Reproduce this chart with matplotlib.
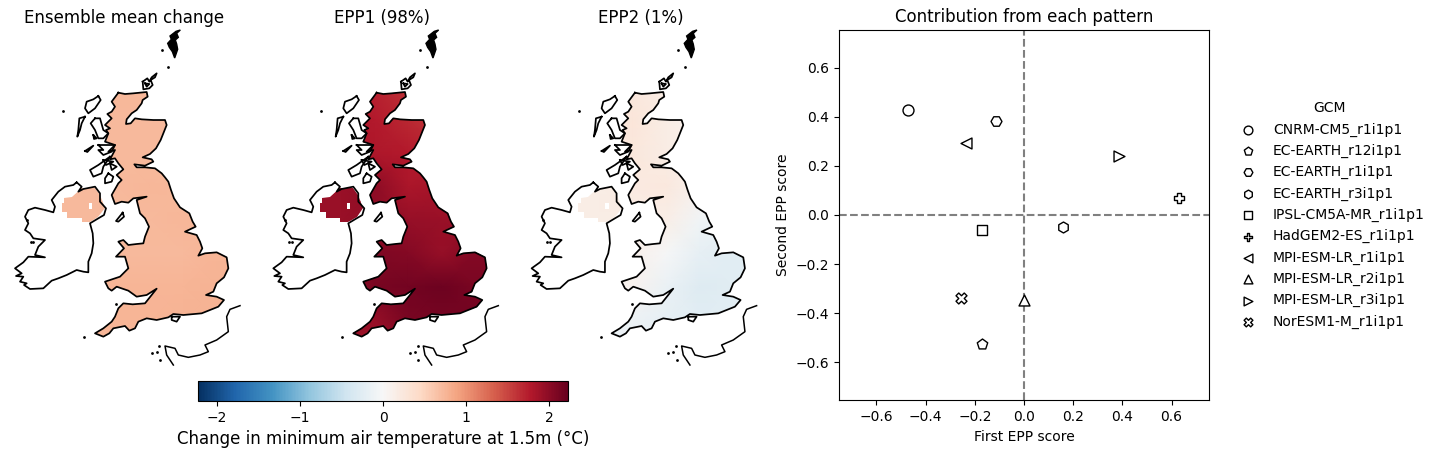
import numpy as np
import matplotlib
matplotlib.use('Agg')
import matplotlib.pyplot as plt
from matplotlib.path import Path
from matplotlib.patches import PathPatch
from matplotlib.cm import ScalarMappable
from matplotlib.colors import Normalize

# coastlines, in map units
great_britain = [(355,218),(375,222),(400,220),(440,216),(443,230),(428,240),(425,250),(410,270),(395,280),(380,298),
    (378,312),(392,310),(405,295),(425,298),(460,300),(495,300),(500,315),(490,340),(482,360),(468,385),(450,402),
    (428,412),(455,418),(460,425),(435,437),(403,433),(410,442),(435,442),(465,445),(485,460),(495,472),(505,485),
    (513,510),(522,535),(540,562),(568,580),(578,605),(587,620),(555,635),(590,645),(600,665),(607,685),(595,707),
    (615,700),(650,697),(680,712),(685,745),(672,772),(650,790),(640,815),(618,825),(650,830),(672,840),(655,860),
    (605,880),(550,885),(520,882),(505,892),(470,900),(440,895),(415,905),(405,925),(388,932),(375,918),(365,920),
    (340,925),(328,940),(310,950),(285,940),(310,925),(335,905),(345,890),(355,865),(370,850),(398,853),(435,850),
    (470,806),(440,825),(410,830),(385,812),(350,800),(335,812),(325,805),(315,785),(345,775),(360,770),(385,745),
    (375,710),(348,710),(372,685),(355,665),(370,660),(385,675),(410,672),(430,670),(435,650),(447,620),(435,595),
    (420,580),(410,540),(440,530),(400,535),(385,548),(365,545),(345,552),(335,525),(355,490),(365,480),(350,465),
    (370,448),(355,430),(345,415),(330,418),(345,390),(325,395),(345,375),(315,365),(325,340),(318,330),(330,325),
    (315,315),(335,295),(322,282),(335,275),(345,260),(335,245)]
ireland = [(230,487),(245,500),(235,515),(250,507),(285,500),(300,520),(300,545),(318,565),(312,585),(295,595),
    (270,610),(278,640),(280,670),(275,700),(265,725),(265,757),(250,755),(230,750),(200,765),(175,775),(155,782),
    (130,805),(90,807),(72,795),(80,790),(60,785),(70,770),(48,768),(65,760),(45,745),(70,727),(85,710),(135,712),
    (105,705),(115,680),(135,660),(100,655),(90,640),(75,630),(85,610),(75,590),(85,570),(105,563),(135,570),(160,577),
    (165,560),(155,540),(175,515),(195,500),(220,495)]
shetland = [(541,30),(530,40),(535,52),(526,60),(530,72),(533,88),(524,114),(517,95),(508,82),(503,70),(514,58),(510,48),(528,34)]
orkney = [(428,185),(442,175),(448,185),(455,172),(470,160),(465,172),(452,180),(458,195),(448,205),(430,208)]
orkney_south = [(435,190),(448,192),(440,200)]
lewis = [(295,228),(302,240),(285,265),(265,280),(255,265),(260,245),(280,238)]
uist = [(255,290),(245,310),(240,330),(232,350),(235,330),(238,295)]
skye = [(285,295),(300,295),(310,330),(325,340),(310,355),(295,355),(285,330),(272,310)]
small_isle = [(280,345),(290,355),(282,357)]
tiree = [(255,393),(280,377),(262,396)]
mull = [(295,375),(345,375),(335,395),(310,405),(295,390),(310,390)]
jura = [(330,410),(310,440),(305,460),(280,470),(270,450),(295,435)]
kintyre = [(325,460),(340,470),(335,485),(315,490),(315,475)]
inner_sound = [(310,420),(340,425),(318,435)]
sleat = [(330,430),(350,440),(335,450)]
isle_of_man = [(368,578),(372,590),(355,605),(348,603)]
wight = [(515,890),(540,890),(530,905),(515,900)]
france = [(720,857),(690,868),(680,890),(685,935),(650,960),(615,975),(625,995),(600,1005),(565,1012),(535,1005),
    (525,985),(495,978),(500,1005),(520,1035)]
specks_x = [188,252,505,485,347,455,470,480,478,100,80,92]
specks_y = [273,952,142,90,852,1000,997,1020,978,665,600,665]
islands = [orkney, orkney_south, lewis, uist, skye, small_isle, tiree, mull, jura, kintyre, inner_sound, sleat,
           isle_of_man, wight]

ni_region = [(192,533),(215,530),(245,505),(285,503),(300,525),(315,565),(295,590),(270,605),(245,605),(245,593),
    (202,593),(202,575),(185,575),(185,548),(192,548)]
ni_hole = [(266,567),(276,567),(276,550),(266,550)]

grid_x = [150,250,350,450,550,650,750]
grid_y = [200,300,400,500,600,700,800,900,1000]
mean_change = [[.74,.74,.74,.74,.74,.74,.74],
               [.72,.72,.73,.73,.73,.73,.73],
               [.72,.72,.73,.73,.73,.73,.73],
               [.73,.73,.73,.74,.73,.73,.73],
               [.73,.73,.73,.73,.74,.74,.74],
               [.73,.73,.73,.73,.72,.76,.76],
               [.73,.73,.75,.75,.75,.78,.78],
               [.73,.73,.75,.76,.77,.78,.78],
               [.73,.73,.75,.76,.77,.78,.78]]
epp1 = [[1.72,1.72,1.72,1.62,1.62,1.62,1.62],
        [1.80,1.80,1.76,1.68,1.60,1.60,1.60],
        [1.90,1.85,1.80,1.76,1.70,1.70,1.70],
        [1.92,1.92,2.00,1.82,1.85,1.85,1.85],
        [1.92,1.92,1.98,1.95,1.92,1.92,1.92],
        [1.92,1.92,2.08,2.05,1.95,2.05,2.05],
        [1.92,1.92,2.12,2.15,2.18,2.12,2.12],
        [1.92,1.92,1.95,2.12,2.14,2.15,2.15],
        [1.92,1.92,1.85,2.00,2.10,2.15,2.15]]
epp2 = [[.20,.20,.24,.17,.17,.17,.17],
        [.22,.22,.27,.17,.10,.10,.10],
        [.22,.22,.26,.17,.08,.08,.08],
        [.17,.17,.20,.24,.10,.00,.00],
        [.17,.17,.17,.14,-.07,-.14,-.14],
        [.10,.10,.12,-.03,-.20,-.26,-.26],
        [.08,.08,.08,-.14,-.29,-.26,-.26],
        [-.08,-.08,-.12,-.20,-.26,-.24,-.24],
        [-.14,-.14,-.17,-.24,-.26,-.24,-.24]]
map_titles = ['Ensemble mean change', 'EPP1 (98%)', 'EPP2 (1%)']

gcms = ['CNRM-CM5_r1i1p1', 'EC-EARTH_r12i1p1', 'EC-EARTH_r1i1p1', 'EC-EARTH_r3i1p1', 'IPSL-CM5A-MR_r1i1p1',
        'HadGEM2-ES_r1i1p1', 'MPI-ESM-LR_r1i1p1', 'MPI-ESM-LR_r2i1p1', 'MPI-ESM-LR_r3i1p1', 'NorESM1-M_r1i1p1']
first_score = [-0.47, -0.17, -0.115, 0.158, -0.17, 0.63, -0.235, 0.0, 0.385, -0.255]
second_score = [0.43, -0.525, 0.385, -0.048, -0.06, 0.07, 0.295, -0.345, 0.24, -0.34]
markers = ['o', 'p', 'H', 'h', 's', 'P', '<', '^', '>', 'X']

W, H = 1440, 454
VMAX = 2.23


def box(left, top, right, bottom):
    return [left / W, 1 - bottom / H, (right - left) / W, (bottom - top) / H]


def closed(points):
    return list(points) + [points[0]]


def land_path():
    verts, codes = [], []
    for ring in [great_britain, ni_region, ni_hole]:
        verts += closed(ring)
        codes += [Path.MOVETO] + [Path.LINETO] * (len(ring) - 1) + [Path.CLOSEPOLY]
    return Path(verts, codes)


def draw_map(offset, values, title):
    ax = plt.axes(box(offset + 5, 26.67, offset + 243, 366.67))
    mesh = ax.pcolormesh(grid_x, grid_y, np.array(values), shading='gouraud', cmap='RdBu_r', vmin=-VMAX, vmax=VMAX)
    patch = PathPatch(land_path(), transform=ax.transData, facecolor='none', edgecolor='none')
    ax.add_patch(patch)
    mesh.set_clip_path(patch)
    for ring in [great_britain, ireland] + islands:
        xs, ys = zip(*closed(ring))
        ax.plot(xs, ys, color='black', lw=1.25)
    xs, ys = zip(*shetland)
    ax.fill(xs, ys, color='black', lw=1)
    xs, ys = zip(*france)
    ax.plot(xs, ys, color='black', lw=1.1)
    ax.scatter(specks_x, specks_y, s=4, color='black', linewidths=0)
    ax.set_xlim(15, 729)
    ax.set_ylim(1040, 20)
    ax.axis('off')
    ax.set_title(title, fontsize=12, pad=3)


def main():
    fig = plt.figure(figsize=(14.4, 4.54), dpi=100)

    for offset, values, title in zip([0, 258.3, 516.6], [mean_change, epp1, epp2], map_titles):
        draw_map(offset, values, title)

    cax = fig.add_axes(box(198, 381, 568, 401))
    sm = ScalarMappable(Normalize(-VMAX, VMAX), 'RdBu_r')
    cb = fig.colorbar(sm, cax=cax, orientation='horizontal', ticks=[-2, -1, 0, 1, 2])
    cb.set_label('Change in minimum air temperature at 1.5m (°C)', fontsize=12)

    ax = fig.add_axes(box(839, 30, 1209, 400))
    ax.axhline(0, color='gray', ls='--', lw=1.5, zorder=1)
    ax.axvline(0, color='gray', ls='--', lw=1.5, zorder=1)
    for name, x, y, m in zip(gcms, first_score, second_score, markers):
        ax.scatter(x, y, marker=m, s=62, facecolor='white', edgecolor='black', linewidths=1, label=name, zorder=3)
    ax.set_xlim(-0.752, 0.752)
    ax.set_ylim(-0.755, 0.755)
    ax.set_xlabel('First EPP score', labelpad=4.3)
    ax.set_ylabel('Second EPP score')
    ax.set_title('Contribution from each pattern', fontsize=12, pad=5.5)
    ax.legend(title='GCM', frameon=False, loc='center left', bbox_to_anchor=(1.034, 0.5), markerscale=0.8,
              labelspacing=0.52)

    fig.savefig('out.png', dpi=100)


if __name__ == '__main__':
    main()
